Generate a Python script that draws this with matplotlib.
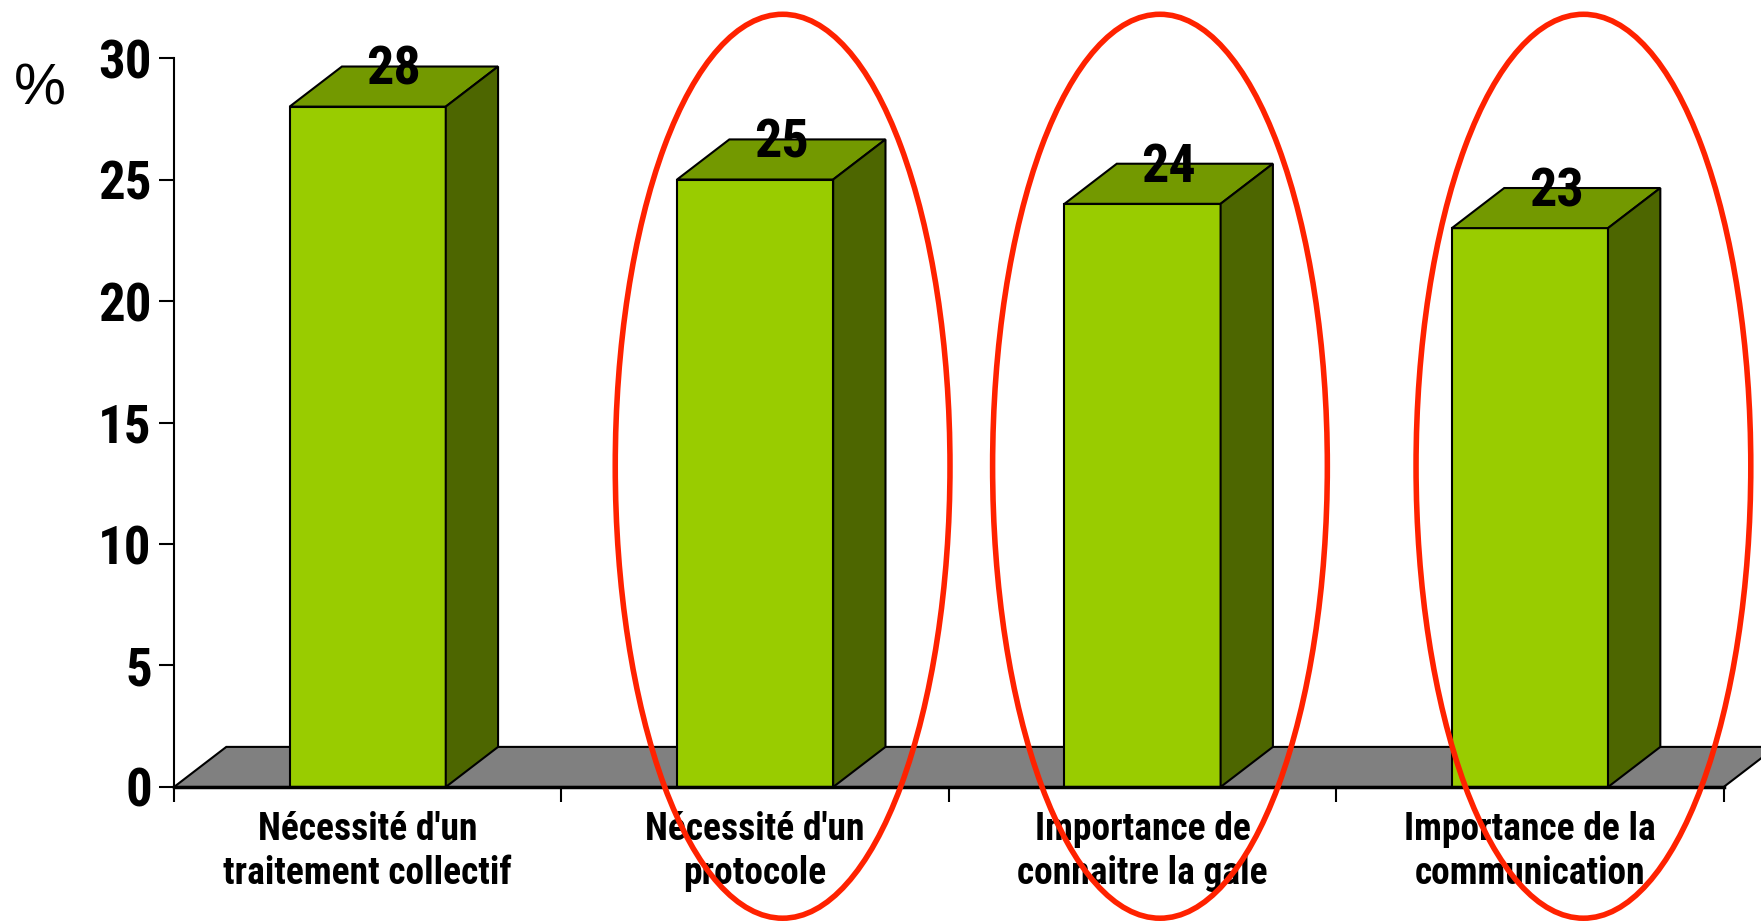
import numpy as np
import matplotlib.pyplot as plt
from matplotlib.patches import Polygon, Ellipse

categories = ["Nécessité d'un\ntraitement collectif", "Nécessité d'un\nprotocole",
              "Importance de\nconnaitre la gale", "Importance de la\ncommunication"]
values = [28, 25, 24, 23]
# cercles rouges autour des catégories 2 à 4
ell_x = [1.571, 2.545, 3.638]

plt.rcParams['font.family'] = ['Roboto Condensed', 'Liberation Sans', 'DejaVu Sans']

fig = plt.figure(figsize=(17.61, 9.21), dpi=100)
ax = fig.add_axes([0.0988, 0.1455, 0.880, 0.7915])

dx, dy = 0.135, 1.65   # profondeur 3D
bw = 0.403
front_c = '#99cc00'
top_c = '#739900'
side_c = '#4d6600'

# sol gris
ax.add_patch(Polygon([(0, 0), (4, 0), (4 + dx, dy), (dx, dy)], closed=True,
                     facecolor='#808080', edgecolor='black', lw=1.5, clip_on=False, zorder=1))

x = np.arange(len(values)) + 0.5
ax.bar(x, values, width=bw, color=front_c, edgecolor='black', lw=1.5, zorder=3, clip_on=False)
for xi, v in zip(x, values):
    l, r = xi - bw / 2, xi + bw / 2
    ax.add_patch(Polygon([(l, v), (r, v), (r + dx, v + dy), (l + dx, v + dy)], closed=True,
                         facecolor=top_c, edgecolor='black', lw=1.5, clip_on=False, zorder=3))
    ax.add_patch(Polygon([(r, 0), (r + dx, dy), (r + dx, v + dy), (r, v)], closed=True,
                         facecolor=side_c, edgecolor='black', lw=1.5, clip_on=False, zorder=3))
    ax.text(xi + dx / 2, v + 1.5, str(v), ha='center', va='center', fontsize=39,
            fontweight='bold', zorder=5)

for cx in ell_x:
    ax.add_patch(Ellipse((cx, 13.2), 0.864, 37.2, facecolor='none', edgecolor='#ff2200',
                         lw=4, clip_on=False, zorder=6))

ax.set_xlim(0, 4)
ax.set_ylim(0, 30)
ax.set_yticks([0, 5, 10, 15, 20, 25, 30])
ax.tick_params(axis='y', labelsize=38, length=11, width=1.5, pad=5)
for t in ax.get_yticklabels():
    t.set_fontweight('bold')
ax.set_xticks([0, 1, 2, 3, 4])
ax.set_xticklabels([])
ax.tick_params(axis='x', which='major', length=11, width=1.5)
ax.set_xticks(x, minor=True)
ax.set_xticklabels(categories, minor=True, fontsize=27, fontweight='bold', linespacing=1.26)
ax.tick_params(axis='x', which='minor', length=0, pad=17)

for s in ['top', 'right']:
    ax.spines[s].set_visible(False)
ax.spines['left'].set_linewidth(1.5)
ax.spines['bottom'].set_linewidth(2.5)
ax.spines['bottom'].set_zorder(4)

fig.text(0.008, 0.903, '%', fontsize=42, ha='left', va='center', family='Liberation Sans')

fig.savefig('out.png', dpi=100)
